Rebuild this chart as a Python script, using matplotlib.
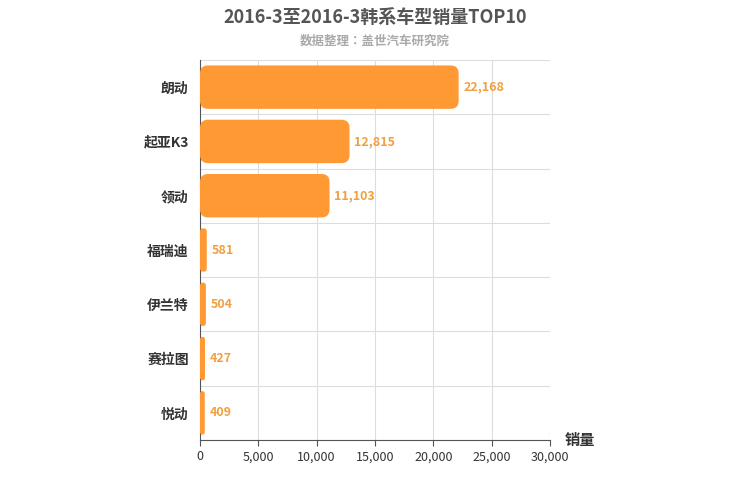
import matplotlib
matplotlib.use("Agg")
import matplotlib.pyplot as plt
from matplotlib.patches import FancyBboxPatch

plt.rcParams['font.family'] = ['Noto Sans CJK SC', 'Noto Sans CJK JP', 'Noto Sans CJK TC',
                               'Noto Sans CJK KR', 'DejaVu Sans']

categories = ["朗动", "起亚K3", "领动", "福瑞迪", "伊兰特", "赛拉图", "悦动"]
values = [22168, 12815, 11103, 581, 504, 427, 409]
xticks = [0, 5000, 10000, 15000, 20000, 25000, 30000]

fig = plt.figure(figsize=(7.5, 5), dpi=100)
ax = fig.add_axes([200/750, 0.12, 350/750, 0.76])
n = len(categories)
ax.set_xlim(0, 30000)
ax.set_ylim(n - 0.5, -0.5)

xpp = 30000 / 350
ypp = n / 380
h = 0.8
for i, v in enumerate(values):
    r = min(8 * xpp, v / 2)
    p = FancyBboxPatch((0, i - h/2), v, h,
                       boxstyle=f"round,pad=0,rounding_size={r}",
                       mutation_aspect=ypp / xpp,
                       fc="#ff9933", ec="none", zorder=3)
    ax.add_patch(p)
    ax.text(v + 400, i, f"{v:,}", va="center", ha="left",
            color="#f0a040", fontsize=9, fontweight="bold", zorder=4)

ax.set_yticks(range(n))
ax.set_yticklabels(categories, fontsize=10, fontweight="bold", color="#333333")
ax.set_xticks(xticks)
ax.set_xticklabels([f"{t:,}" for t in xticks], fontsize=9, color="#333333")
for t in xticks[1:]:
    ax.axvline(t, color="#dddddd", lw=0.8, zorder=0)
for b in range(n + 1):
    ax.axhline(b - 0.5, color="#dddddd", lw=0.8, zorder=0)
ax.tick_params(axis="y", length=0, pad=8)
ax.tick_params(axis="x", length=4, color="#555555")
for s in ["top", "right"]:
    ax.spines[s].set_visible(False)
ax.spines["left"].set_color("#555555")
ax.spines["bottom"].set_color("#555555")

fig.text(0.5, 0.965, "2016-3至2016-3韩系车型销量TOP10", ha="center", va="center",
         fontsize=13, fontweight="bold", color="#555555")
fig.text(0.5, 0.918, "数据整理：盖世汽车研究院", ha="center", va="center",
         fontsize=9, fontweight="bold", color="#aaaaaa")
fig.text(580/750, 1 - 440/500, "销量", ha="center", va="center",
         fontsize=11, fontweight="bold", color="#333333")

fig.savefig("out.png", dpi=100)
